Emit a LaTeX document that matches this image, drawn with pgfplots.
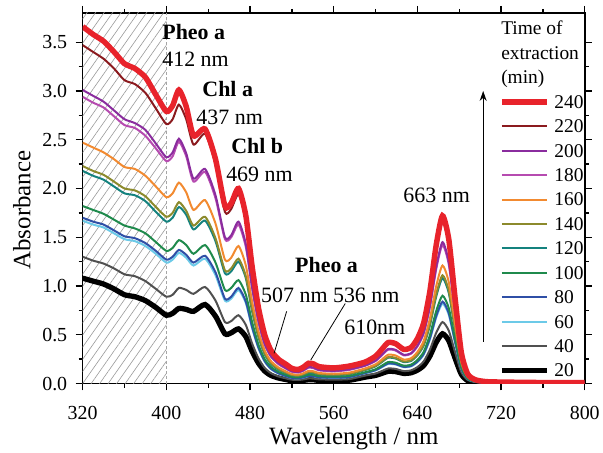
\documentclass[border=0pt]{standalone}
\usepackage{pgfplots}
\pgfplotsset{compat=1.18}
\usepackage{pgfplotstable}
\usepackage{fontspec}
\setmainfont{Liberation Serif}
\usetikzlibrary{patterns.meta,arrows.meta}

\definecolor{c240}{HTML}{E8232B}
\definecolor{c220}{HTML}{8B1A1E}
\definecolor{c200}{HTML}{8A2C9E}
\definecolor{c180}{HTML}{B64BB0}
\definecolor{c160}{HTML}{F28A30}
\definecolor{c140}{HTML}{8C8A2C}
\definecolor{c120}{HTML}{14827E}
\definecolor{c100}{HTML}{1F8A4C}
\definecolor{c80}{HTML}{2F4FA6}
\definecolor{c60}{HTML}{6CCAE8}
\definecolor{c40}{HTML}{505050}
\definecolor{c20}{HTML}{000000}

\pgfplotstableread{
x s240 s220 s200 s180 s160 s140 s120 s100 s80 s60 s40 s20
320 3.66 3.47 3.01 2.94 2.47 2.23 2.18 1.82 1.70 1.67 1.30 1.08
330 3.58 3.40 2.95 2.88 2.42 2.18 2.13 1.78 1.66 1.63 1.26 1.05
340 3.51 3.33 2.89 2.83 2.37 2.14 2.09 1.74 1.63 1.60 1.23 1.02
350 3.40 3.23 2.80 2.74 2.30 2.07 2.02 1.68 1.57 1.54 1.18 0.97
360 3.28 3.11 2.71 2.65 2.22 2.00 1.95 1.62 1.51 1.48 1.12 0.91
370 3.23 3.07 2.67 2.62 2.20 1.98 1.93 1.59 1.49 1.46 1.10 0.89
380 3.14 2.98 2.60 2.54 2.13 1.92 1.87 1.54 1.44 1.41 1.05 0.85
390 2.96 2.82 2.46 2.41 2.02 1.81 1.76 1.45 1.36 1.33 0.97 0.78
400 2.79 2.66 2.32 2.28 1.91 1.71 1.66 1.36 1.27 1.24 0.89 0.70
406 2.85 2.71 2.37 2.33 1.95 1.75 1.70 1.39 1.30 1.27 0.91 0.72
412 3.01 2.86 2.51 2.48 2.06 1.86 1.81 1.47 1.37 1.34 0.98 0.77
419 2.84 2.71 2.36 2.33 1.96 1.77 1.73 1.42 1.32 1.29 0.96 0.76
426 2.54 2.45 2.10 2.07 1.78 1.62 1.58 1.33 1.24 1.21 0.92 0.74
437 2.61 2.56 2.20 2.17 1.88 1.71 1.67 1.42 1.31 1.28 0.99 0.81
447 2.30 2.25 1.93 1.90 1.64 1.49 1.46 1.24 1.14 1.11 0.85 0.69
456 1.82 1.76 1.50 1.48 1.27 1.16 1.13 0.96 0.87 0.85 0.63 0.51
462 1.85 1.79 1.52 1.50 1.29 1.18 1.15 0.98 0.89 0.87 0.64 0.52
469 2.00 1.94 1.66 1.63 1.41 1.28 1.25 1.06 0.98 0.96 0.70 0.56
476 1.72 1.67 1.43 1.40 1.21 1.10 1.08 0.91 0.84 0.825 0.60 0.48
482 1.20 1.16 0.99 0.975 0.84 0.76 0.74 0.63 0.58 0.568 0.41 0.33
488 0.78 0.75 0.65 0.63 0.54 0.49 0.478 0.40 0.37 0.362 0.26 0.21
494 0.50 0.48 0.41 0.40 0.34 0.31 0.30 0.25 0.23 0.225 0.16 0.128
500 0.34 0.33 0.28 0.276 0.23 0.21 0.20 0.17 0.152 0.148 0.106 0.083
507 0.25 0.24 0.21 0.20 0.166 0.15 0.143 0.12 0.106 0.103 0.073 0.057
514 0.20 0.19 0.16 0.155 0.126 0.114 0.108 0.09 0.078 0.076 0.053 0.041
520 0.155 0.146 0.126 0.121 0.097 0.087 0.082 0.068 0.058 0.056 0.039 0.029
526 0.144 0.135 0.117 0.113 0.09 0.081 0.077 0.063 0.054 0.052 0.036 0.027
531 0.168 0.158 0.137 0.131 0.105 0.095 0.089 0.074 0.063 0.061 0.042 0.032
536 0.208 0.195 0.169 0.163 0.13 0.117 0.11 0.091 0.078 0.075 0.052 0.039
541 0.20 0.188 0.163 0.156 0.125 0.113 0.106 0.088 0.075 0.073 0.05 0.038
546 0.173 0.162 0.14 0.135 0.108 0.097 0.092 0.076 0.065 0.063 0.043 0.032
560 0.16 0.15 0.13 0.125 0.10 0.09 0.085 0.07 0.06 0.058 0.04 0.03
575 0.179 0.168 0.146 0.14 0.112 0.10 0.095 0.078 0.067 0.065 0.045 0.034
590 0.22 0.212 0.185 0.182 0.155 0.142 0.138 0.115 0.107 0.105 0.081 0.065
600 0.28 0.27 0.236 0.231 0.197 0.181 0.176 0.146 0.137 0.134 0.102 0.083
606 0.35 0.338 0.295 0.289 0.246 0.226 0.22 0.183 0.171 0.167 0.128 0.104
612 0.42 0.405 0.354 0.347 0.295 0.271 0.264 0.22 0.205 0.20 0.154 0.125
619 0.41 0.396 0.346 0.339 0.288 0.264 0.257 0.214 0.20 0.196 0.15 0.122
627 0.35 0.338 0.295 0.289 0.246 0.226 0.22 0.183 0.171 0.167 0.128 0.104
634 0.37 0.357 0.312 0.306 0.26 0.239 0.232 0.194 0.181 0.176 0.135 0.11
640 0.46 0.444 0.388 0.38 0.323 0.297 0.289 0.241 0.225 0.219 0.168 0.137
646 0.62 0.598 0.523 0.512 0.436 0.40 0.389 0.324 0.303 0.296 0.227 0.184
652 0.95 0.917 0.80 0.785 0.668 0.613 0.597 0.497 0.464 0.453 0.348 0.282
658 1.42 1.37 1.197 1.173 0.998 0.916 0.892 0.743 0.693 0.677 0.52 0.422
664 1.72 1.66 1.45 1.42 1.21 1.11 1.08 0.90 0.84 0.82 0.63 0.51
670 1.48 1.428 1.248 1.222 1.04 0.955 0.929 0.774 0.722 0.706 0.542 0.44
676 0.88 0.849 0.742 0.727 0.619 0.568 0.553 0.46 0.429 0.42 0.322 0.261
682 0.32 0.309 0.27 0.264 0.225 0.206 0.201 0.167 0.156 0.153 0.117 0.095
688 0.10 0.097 0.084 0.083 0.07 0.065 0.063 0.052 0.049 0.048 0.037 0.03
695 0.04 0.039 0.034 0.033 0.028 0.026 0.025 0.021 0.02 0.019 0.015 0.012
705 0.02 0.019 0.017 0.017 0.014 0.013 0.013 0.01 0.01 0.01 0.007 0.006
720 0.015 0.014 0.013 0.012 0.011 0.01 0.009 0.008 0.007 0.007 0.005 0.004
760 0.01 0.01 0.008 0.008 0.007 0.006 0.006 0.005 0.005 0.005 0.004 0.003
800 0.01 0.01 0.008 0.008 0.007 0.006 0.006 0.005 0.005 0.005 0.004 0.003
}\spectra

\begin{document}
\begin{tikzpicture}
\begin{axis}[
  width=504pt, height=372pt, scale only axis,
  xmin=320, xmax=800, ymin=0, ymax=3.8,
  xtick={320,400,480,560,640,720,800}, minor x tick num=1,
  ytick={0,0.5,1,1.5,2,2.5,3,3.5}, minor y tick num=1,
  tick align=outside, tick pos=both,
  major tick length=7pt, minor tick length=4pt,
  every tick/.style={line width=1.3pt, black},
  axis line style={line width=1.6pt},
  /pgf/number format/assume math mode=true,
  tick label style={font=\fontsize{20}{24}\selectfont},
  x tick label style={yshift=-12pt, /pgf/number format/.cd, fixed, 1000 sep={}},
  y tick label style={xshift=-5pt, /pgf/number format/.cd, fixed, fixed zerofill, precision=1},
  xlabel={Wavelength / nm}, ylabel={Absorbance},
  every axis x label/.style={at={(axis description cs:0.54,-0.164)}, anchor=base, font=\fontsize{25}{30}\selectfont},
  every axis y label/.style={at={(axis description cs:-0.121,0.468)}, anchor=center, rotate=90, font=\fontsize{25}{30}\selectfont},
  reverse legend,
  legend cell align=left,
  legend image code/.code={\draw[#1] (0pt,0pt) -- (45pt,0pt);},
  legend style={at={(0.829,0.778)}, anchor=north west, draw=none, fill=none,
    font=\fontsize{19.5}{23}\selectfont, row sep=11.5pt, column sep=5pt, inner sep=0pt,
    nodes={inner sep=0pt, text height=13pt, text depth=0pt}},
  every axis plot/.append style={smooth, tension=0.4},
]
\coordinate (bl) at (rel axis cs:0,0);
\coordinate (tr) at (rel axis cs:1,1);
\addplot[draw=none, fill=none, pattern={Lines[angle=55,distance=7pt,line width=0.6pt]}, pattern color=gray!80, forget plot, sharp plot] coordinates {(320,3.8) (400,3.8)} \closedcycle;
\addplot[gray!70, densely dashed, line width=0.9pt, forget plot, sharp plot] coordinates {(400,0) (400,3.8)};

\addplot[c20, line width=5.3pt] table[x=x,y=s20]{\spectra}; \addlegendentry{20}
\addplot[c40, line width=2pt] table[x=x,y=s40]{\spectra}; \addlegendentry{40}
\addplot[c60, line width=2pt] table[x=x,y=s60]{\spectra}; \addlegendentry{60}
\addplot[c80, line width=2pt] table[x=x,y=s80]{\spectra}; \addlegendentry{80}
\addplot[c100, line width=2pt] table[x=x,y=s100]{\spectra}; \addlegendentry{100}
\addplot[c120, line width=2pt] table[x=x,y=s120]{\spectra}; \addlegendentry{120}
\addplot[c140, line width=2pt] table[x=x,y=s140]{\spectra}; \addlegendentry{140}
\addplot[c160, line width=2pt] table[x=x,y=s160]{\spectra}; \addlegendentry{160}
\addplot[c180, line width=2pt] table[x=x,y=s180]{\spectra}; \addlegendentry{180}
\addplot[c200, line width=2pt] table[x=x,y=s200]{\spectra}; \addlegendentry{200}
\addplot[c220, line width=2pt] table[x=x,y=s220]{\spectra}; \addlegendentry{220}
\addplot[c240, line width=5.5pt] table[x=x,y=s240]{\spectra}; \addlegendentry{240}

\node[anchor=west, inner sep=0pt, font=\bfseries\fontsize{22}{26}\selectfont] at (axis cs:396,3.60) {Pheo a};
\node[anchor=west, inner sep=0pt, font=\fontsize{22}{26}\selectfont] at (axis cs:396,3.33) {412 nm};
\node[anchor=west, inner sep=0pt, font=\bfseries\fontsize{22}{26}\selectfont] at (axis cs:434.3,3.02) {Chl a};
\node[anchor=west, inner sep=0pt, font=\fontsize{22}{26}\selectfont] at (axis cs:428.6,2.73) {437 nm};
\node[anchor=west, inner sep=0pt, font=\bfseries\fontsize{22}{26}\selectfont] at (axis cs:461.9,2.44) {Chl b};
\node[anchor=west, inner sep=0pt, font=\fontsize{22}{26}\selectfont] at (axis cs:457.1,2.15) {469 nm};
\node[anchor=west, inner sep=0pt, font=\bfseries\fontsize{22}{26}\selectfont] at (axis cs:523,1.22) {Pheo a};
\node[anchor=west, inner sep=0pt, font=\fontsize{22}{26}\selectfont] at (axis cs:490.5,0.90) {507 nm 536 nm};
\node[anchor=west, inner sep=0pt, font=\fontsize{22}{26}\selectfont] at (axis cs:570,0.58) {610nm};
\node[anchor=west, inner sep=0pt, font=\fontsize{22}{26}\selectfont] at (axis cs:626.5,1.93) {663 nm};
\draw[line width=0.8pt] (axis cs:515,0.74) -- (axis cs:503,0.31);
\draw[line width=0.8pt] (axis cs:571,0.82) -- (axis cs:538,0.24);
\draw[-{Stealth[length=10pt,width=7pt]}, line width=1.3pt] (axis cs:702.9,0.43) -- (axis cs:702.9,3.0);
\node[anchor=north west, align=left, inner sep=0pt, font=\fontsize{19.5}{24.5}\selectfont] at (axis cs:720,3.72) {Time of\\extraction\\(min)};
\end{axis}
\path ([xshift=-83pt,yshift=-69pt]bl) rectangle ([xshift=16pt,yshift=13pt]tr);
\end{tikzpicture}
\end{document}
